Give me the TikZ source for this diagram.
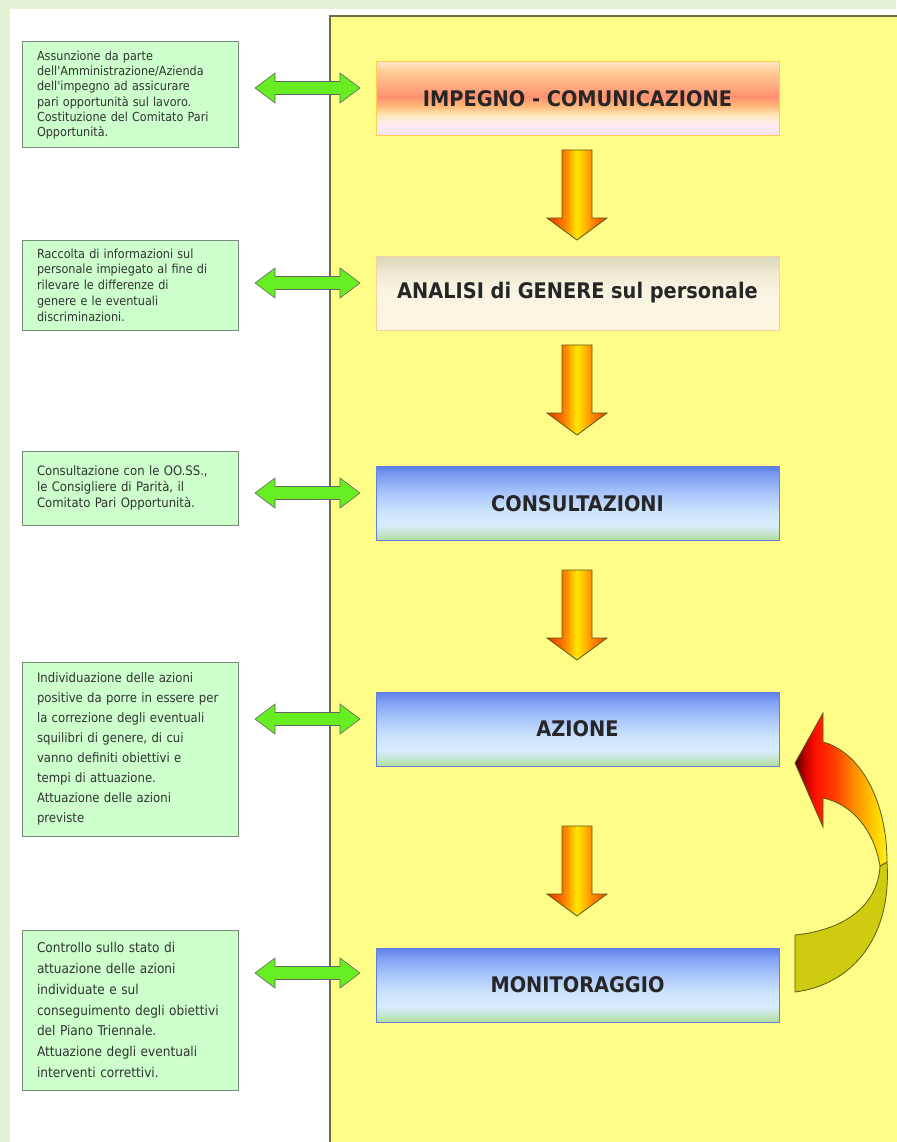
\documentclass[tikz,border=0pt]{standalone}
\usepackage{fontspec}
\newfontfamily\smallf{DejaVu Sans Condensed}
\newfontfamily\titlef{DejaVu Sans Condensed}
\usetikzlibrary{calc}
\definecolor{bggreen}{HTML}{E6F2D6}
\definecolor{panelyellow}{HTML}{FFFC88}
\definecolor{panelborder}{HTML}{6B6B45}
\definecolor{boxgreen}{HTML}{CCFFCC}
\definecolor{boxgreenborder}{HTML}{7A8A7A}
\definecolor{arrowgreen}{HTML}{66EE22}
\definecolor{olivefill}{HTML}{CFCC10}
\definecolor{oliveborder}{HTML}{5A5A10}
% vertical shadings: 25bp = bottom edge, 75bp = top edge
\pgfdeclareverticalshading{impegnosh}{100bp}{%
 color(0bp)=(rgb,255:red,244;green,224;blue,244);
 color(25bp)=(rgb,255:red,244;green,224;blue,244);
 color(32.5bp)=(rgb,255:red,252;green,236;blue,244);
 color(39bp)=(rgb,255:red,255;green,232;blue,184);
 color(45bp)=(rgb,255:red,255;green,184;blue,120);
 color(51.5bp)=(rgb,255:red,255;green,144;blue,112);
 color(57.5bp)=(rgb,255:red,255;green,168;blue,128);
 color(67.5bp)=(rgb,255:red,255;green,200;blue,144);
 color(75bp)=(rgb,255:red,255;green,230;blue,200);
 color(100bp)=(rgb,255:red,255;green,230;blue,200)}
\pgfdeclareverticalshading{analisish}{100bp}{%
 color(0bp)=(rgb,255:red,252;green,245;blue,224);
 color(25bp)=(rgb,255:red,252;green,245;blue,224);
 color(50bp)=(rgb,255:red,250;green,244;blue,226);
 color(62bp)=(rgb,255:red,242;green,236;blue,214);
 color(75bp)=(rgb,255:red,218;green,214;blue,184);
 color(100bp)=(rgb,255:red,218;green,214;blue,184)}
\pgfdeclareverticalshading{bluesh}{100bp}{%
 color(0bp)=(rgb,255:red,176;green,220;blue,144);
 color(25bp)=(rgb,255:red,176;green,220;blue,144);
 color(29bp)=(rgb,255:red,192;green,228;blue,200);
 color(35bp)=(rgb,255:red,216;green,236;blue,252);
 color(45bp)=(rgb,255:red,204;green,228;blue,252);
 color(57.5bp)=(rgb,255:red,168;green,196;blue,252);
 color(70bp)=(rgb,255:red,122;green,154;blue,240);
 color(75bp)=(rgb,255:red,90;green,126;blue,232);
 color(100bp)=(rgb,255:red,90;green,126;blue,232)}
% horizontal shadings: 25bp = left edge, 75bp = right edge
\pgfdeclarehorizontalshading{downsh}{100bp}{%
 color(0bp)=(rgb,255:red,232;green,48;blue,0);
 color(25bp)=(rgb,255:red,232;green,48;blue,0);
 color(37.3bp)=(rgb,255:red,255;green,112;blue,0);
 color(42.2bp)=(rgb,255:red,255;green,154;blue,0);
 color(49.6bp)=(rgb,255:red,255;green,230;blue,0);
 color(55.5bp)=(rgb,255:red,255;green,192;blue,0);
 color(62bp)=(rgb,255:red,255;green,140;blue,0);
 color(75bp)=(rgb,255:red,238;green,68;blue,0);
 color(100bp)=(rgb,255:red,238;green,68;blue,0)}
\pgfdeclarehorizontalshading{curvesh}{100bp}{%
 color(0bp)=(rgb,255:red,80;green,0;blue,0);
 color(25bp)=(rgb,255:red,80;green,0;blue,0);
 color(30.4bp)=(rgb,255:red,192;green,0;blue,0);
 color(35.9bp)=(rgb,255:red,255;green,16;blue,0);
 color(46.7bp)=(rgb,255:red,255;green,64;blue,0);
 color(57.6bp)=(rgb,255:red,255;green,144;blue,0);
 color(68.5bp)=(rgb,255:red,255;green,208;blue,0);
 color(75bp)=(rgb,255:red,255;green,238;blue,32);
 color(100bp)=(rgb,255:red,255;green,238;blue,32)}
\tikzset{
 mainbox/.style={minimum width=403pt, minimum height=74pt, inner sep=0pt,
   font=\titlef\bfseries\fontsize{21.5}{24}\selectfont, text=black!85},
 sidebox/.style={draw=boxgreenborder, line width=1pt, fill=boxgreen,
   minimum width=216pt, inner sep=0pt, text width=186pt, align=left,
   font=\smallf\fontsize{12.5}{15.3}\selectfont, text=black!80},
 dblarrow/.style={fill=arrowgreen, draw=black!60, line width=0.6pt, line join=miter},
 downarrow/.style={shading=downsh, draw=oliveborder, line width=0.8pt},
}
\newcommand\DblArrow[1]{%
 \path[dblarrow] (255,#1) -- (275,#1-15) -- (275,#1-6.5) -- (340,#1-6.5) -- (340,#1-15)
   -- (360,#1) -- (340,#1+15) -- (340,#1+6.5) -- (275,#1+6.5) -- (275,#1+15) -- cycle;}
\newcommand\DownArrow[1]{%
 \path[downarrow] (562,#1) -- (592,#1) -- (592,#1+68) -- (607,#1+68) -- (577,#1+90)
   -- (547,#1+68) -- (562,#1+68) -- cycle;}
\begin{document}
\begin{tikzpicture}[x=1pt,y=-1pt]
\useasboundingbox (0,0) rectangle (896,1142);
% background
\fill[bggreen] (0,0) rectangle (896,1142);
\fill[white] (10,9) rectangle (896,1142);
\path[fill=panelyellow, draw=panelborder, line width=1.3pt] (330,16) rectangle (905,1150);
% main boxes
\node[mainbox, shading=impegnosh, draw={rgb,255:red,255;green,204;blue,80}, line width=0.8pt]
  (b1) at (577.5,98.5) {IMPEGNO - COMUNICAZIONE};
\node[mainbox, shading=analisish, draw={rgb,255:red,248;green,208;blue,160}, line width=0.8pt]
  (b2) at (577.5,293) {ANALISI di GENERE sul personale};
\node[mainbox, shading=bluesh, draw={rgb,255:red,100;green,130;blue,220}, line width=0.8pt]
  (b3) at (577.5,503.5) {CONSULTAZIONI};
\node[mainbox, shading=bluesh, draw={rgb,255:red,100;green,130;blue,220}, line width=0.8pt]
  (b4) at (577.5,729) {AZIONE};
\node[mainbox, shading=bluesh, draw={rgb,255:red,100;green,130;blue,220}, line width=0.8pt]
  (b5) at (577.5,985) {MONITORAGGIO};
% side boxes
\node[sidebox, minimum height=106pt] (l1) at (130,95) {Assunzione da parte\\
dell'Amministrazione/Azienda\\ dell'impegno ad assicurare\\ pari opportunità sul lavoro.\\
Costituzione del Comitato Pari\\ Opportunità.};
\node[sidebox, minimum height=90pt, font=\smallf\fontsize{12.5}{15.7}\selectfont] (l2) at (130,285) {Raccolta di informazioni sul\\
personale impiegato al fine di\\ rilevare le differenze di\\ genere e le eventuali\\ discriminazioni.};
\node[sidebox, minimum height=74pt, font=\smallf\fontsize{13}{16}\selectfont] (l3) at (130,488) {Consultazione con le OO.SS.,\\
le Consigliere di Parità, il\\ Comitato Pari Opportunità.};
\node[sidebox, minimum height=174pt, font=\smallf\fontsize{13}{20}\selectfont] (l4) at (130,749)
 {Individuazione delle azioni\\ positive da porre in essere per\\ la correzione degli eventuali\\
 squilibri di genere, di cui\\ vanno definiti obiettivi e\\ tempi di attuazione.\\
 Attuazione delle azioni\\ previste};
\node[sidebox, minimum height=160pt, font=\smallf\fontsize{13.5}{20.7}\selectfont] (l5) at (130,1010)
 {Controllo sullo stato di\\ attuazione delle azioni\\ individuate e sul\\
 conseguimento degli obiettivi\\ del Piano Triennale.\\ Attuazione degli eventuali\\ interventi correttivi.};
% double arrows between side boxes and main boxes
\DblArrow{88}
\DblArrow{283}
\DblArrow{493}
\DblArrow{719}
\DblArrow{973}
% down arrows between main boxes
\DownArrow{150}
\DownArrow{345}
\DownArrow{570}
\DownArrow{826}
% curved return arrow (MONITORAGGIO -> AZIONE)
\path[fill=olivefill, draw=oliveborder, line width=0.8pt]
  (887,862) .. controls (892,940) and (850,985) .. (795,992) -- (795,935)
  .. controls (845,930) and (878,905) .. (880,866) -- cycle;
\path[shading=curvesh, draw=oliveborder, line width=0.8pt]
  (795,763) -- (823,713) -- (823,742) .. controls (860,752) and (887,800) .. (887,862)
  -- (880,866) .. controls (874,830) and (852,804) .. (823,798) -- (823,827) -- cycle;
\end{tikzpicture}
\end{document}
